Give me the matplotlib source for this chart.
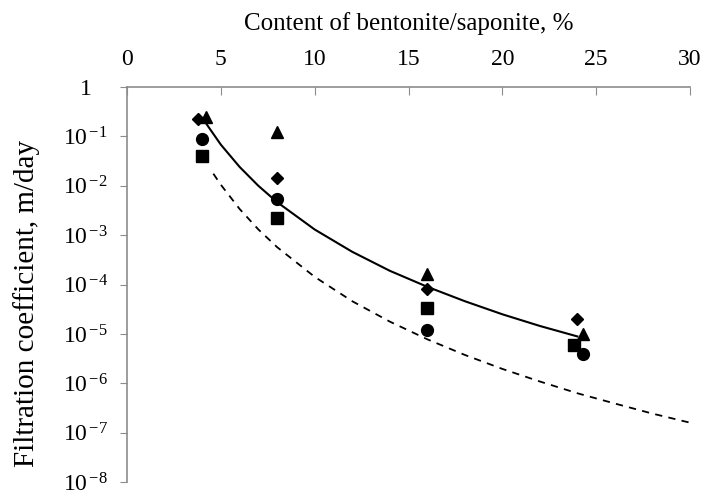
import matplotlib
matplotlib.use("Agg")
import matplotlib.pyplot as plt
from matplotlib.ticker import FixedLocator, FixedFormatter

plt.rcParams['font.family'] = ['Liberation Serif', 'DejaVu Serif']
plt.rcParams['mathtext.fontset'] = 'custom'
plt.rcParams['mathtext.rm'] = 'Liberation Serif'
plt.rcParams['mathtext.it'] = 'Liberation Serif:italic'

# measured points (content %, filtration coefficient m/day)
diamond_x = [3.8, 8.0, 16.0, 24.0]
diamond_y = [0.22, 0.0145, 8.0e-5, 2.0e-5]
triangle_x = [4.2, 8.0, 16.0, 24.3]
triangle_y = [0.25, 0.12, 1.6e-4, 1.0e-5]
circle_x = [4.0, 8.0, 16.0, 24.3]
circle_y = [0.09, 0.0054, 1.2e-5, 4.0e-6]
square_x = [4.0, 8.0, 16.0, 23.8]
square_y = [0.04, 0.0022, 3.3e-5, 6.0e-6]

# trend curves
solid_x = [4.1, 5, 6, 7, 8, 10, 12, 14, 16, 18, 20, 22, 24]
solid_y = [0.21, 0.0677, 0.024, 0.00995, 0.00465, 0.0013, 4.6e-4, 1.9e-4,
           9.0e-5, 4.6e-5, 2.5e-5, 1.45e-5, 8.9e-6]
dashed_x = [4.6, 5, 6, 7, 8, 10, 12, 14, 16, 18, 20, 22, 24, 26, 28, 30]
dashed_y = [0.0175, 0.01045, 0.00338, 0.0013, 5.7e-4, 1.43e-4, 4.6e-5, 1.78e-5,
            7.8e-6, 3.76e-6, 1.96e-6, 1.09e-6, 6.3e-7, 3.9e-7, 2.44e-7, 1.6e-7]

x_ticks = [0, 5, 10, 15, 20, 25, 30]
y_ticks = [1, 1e-1, 1e-2, 1e-3, 1e-4, 1e-5, 1e-6, 1e-7, 1e-8]
y_labels = ['1'] + ['$10^{\\,\\mathrm{-}%d}$' % k for k in range(1, 9)]

fig = plt.figure(figsize=(7.03, 4.91), dpi=100)
ax = fig.add_axes([0.1807, 0.018, 0.8008, 0.805])

ax.plot(solid_x, solid_y, color='black', lw=1.5)
ax.plot(dashed_x, dashed_y, color='black', lw=1.3, ls=(0, (4, 3.5)))
ax.plot(diamond_x, diamond_y, 'D', color='black', ms=6.5, ls='none')
ax.plot(triangle_x, triangle_y, '^', color='black', ms=8.5, ls='none')
ax.plot(circle_x, circle_y, 'o', color='black', ms=8.5, ls='none')
ax.plot(square_x, square_y, 's', color='black', ms=8, ls='none')

ax.set_yscale('log')
ax.set_xlim(0, 30)
ax.set_ylim(1e-8, 1)

ax.xaxis.set_ticks_position('top')
ax.xaxis.set_label_position('top')
ax.set_xticks(x_ticks)
ax.tick_params(axis='x', direction='in', length=6, color='#8c8c8c',
               labelsize=17, pad=12)
ax.yaxis.set_major_locator(FixedLocator(y_ticks))
ax.yaxis.set_major_formatter(FixedFormatter(y_labels))
ax.yaxis.set_minor_locator(FixedLocator([]))
ax.tick_params(axis='y', direction='out', length=5, color='#8c8c8c',
               labelsize=17, pad=25)
for lab in ax.get_yticklabels():
    lab.set_horizontalalignment('center')

for side in ['right', 'bottom']:
    ax.spines[side].set_visible(False)
for side in ['left', 'top']:
    ax.spines[side].set_color('#8c8c8c')
    ax.spines[side].set_linewidth(1.2)

ax.set_xlabel('Content of bentonite/saponite, %', fontsize=18, labelpad=14)
ax.set_ylabel('Filtration coefficient, m/day', fontsize=21)
ax.yaxis.set_label_coords(-0.155, 0.453)

fig.savefig('out.png', dpi=100)
